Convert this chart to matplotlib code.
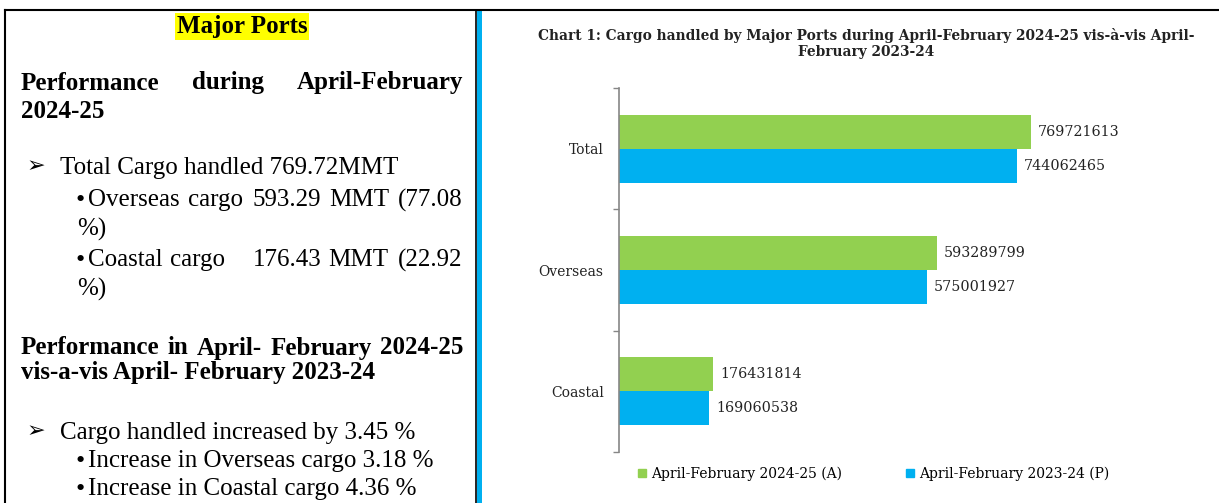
import matplotlib
matplotlib.use('Agg')
import matplotlib.pyplot as plt
from matplotlib.patches import Patch, Rectangle
from matplotlib.lines import Line2D

W, H = 1219, 503

categories = ['Coastal', 'Overseas', 'Total']
cargo_2024_25 = [176431814, 593289799, 769721613]
cargo_2023_24 = [169060538, 575001927, 744062465]
series_labels = ['April-February 2024-25 (A)', 'April-February 2023-24 (P)']
chart_title = ('Chart 1: Cargo handled by Major Ports during April-February 2024-25 vis-à-vis April-\n'
               'February 2023-24')

GREEN = '#92D050'
BLUE = '#00B0F0'
SERIF = ['Liberation Serif', 'DejaVu Sans']
CHART_FONT = 'DejaVu Serif'


def fx(x):
    return x / W


def fy(y):
    return 1 - y / H


fig = plt.figure(figsize=(W / 100, H / 100), dpi=100)
renderer = fig.canvas.get_renderer()

# table borders
fig.add_artist(Line2D([fx(5), fx(W)], [fy(9.5), fy(9.5)], color='black', lw=1.5))
fig.add_artist(Line2D([fx(5), fx(5)], [fy(9.5), fy(H)], color='black', lw=1.5))
fig.add_artist(Line2D([fx(476), fx(476)], [fy(9.5), fy(H)], color='black', lw=1.2))
fig.add_artist(Rectangle((fx(477), 0), fx(4.5), fy(10), color=BLUE, lw=0))


def put(x, y, s, bold=False, ha='left', size=18, **kw):
    return fig.text(fx(x), fy(y), s, ha=ha, va='center', fontsize=size, family=SERIF,
                    fontweight='bold' if bold else 'normal', **kw)


def justify(words, y, x0, x1, bold=False):
    # spread words over x0..x1 like justified text in the document
    arts = [put(0, y, w, bold=bold) for w in words]
    widths = [a.get_window_extent(renderer).width for a in arts]
    gap = (x1 - x0 - sum(widths)) / (len(words) - 1)
    x = x0
    for a, w in zip(arts, widths):
        a.set_x(fx(x))
        x += w + gap


def arrow(y):
    put(27, y, '➢', size=16)


def bullet(y):
    put(75.5, y + 1, '•', size=19)


# left panel
put(242, 26, 'Major Ports', bold=True, ha='center',
    bbox=dict(facecolor='#FFFF00', edgecolor='none', pad=1.5))
justify(['Performance', 'during', 'April-February'], 83, 21, 463, bold=True)
put(21, 112, '2024-25', bold=True)

arrow(168)
put(60, 168, 'Total Cargo handled 769.72MMT')
bullet(200)
justify(['Overseas', 'cargo', '593.29', 'MMT', '(77.08'], 200, 88, 463)
put(77, 229, '%)')
bullet(260)
for x, w in zip([88, 170, 253, 328, 398], ['Coastal', 'cargo', '176.43', 'MMT', '(22.92']):
    put(x, 260, w)
put(77, 289, '%)')

justify(['Performance', 'in', 'April-', 'February', '2024-25'], 348, 21, 463, bold=True)
put(21, 373, 'vis-a-vis April- February 2023-24', bold=True)

arrow(433)
put(60, 433, 'Cargo handled increased by 3.45 %')
bullet(461)
put(88, 461, 'Increase in Overseas cargo 3.18 %')
bullet(489)
put(88, 489, 'Increase in Coastal cargo 4.36 %')

# chart
x_max = 1e9
ax_w = (1031 - 619) / cargo_2024_25[2] * x_max
ax = fig.add_axes([fx(619), fy(452), fx(ax_w), (452 - 88) / H])

pos = list(range(len(categories)))
bh = 0.28
ax.barh([p + bh / 2 for p in pos], cargo_2024_25, height=bh, color=GREEN, label=series_labels[0])
ax.barh([p - bh / 2 for p in pos], cargo_2023_24, height=bh, color=BLUE, label=series_labels[1])

for p, v in zip(pos, cargo_2024_25):
    ax.annotate(str(v), (v, p + bh / 2), xytext=(5, 0), textcoords='offset points',
                va='center', fontsize=10.3, family=CHART_FONT, color='#222222')
for p, v in zip(pos, cargo_2023_24):
    ax.annotate(str(v), (v, p - bh / 2), xytext=(5, 0), textcoords='offset points',
                va='center', fontsize=10.3, family=CHART_FONT, color='#222222')

ax.set_xlim(0, x_max)
ax.set_ylim(-0.5, len(categories) - 0.5)
ax.set_yticks([p - 0.5 for p in range(len(categories) + 1)])
ax.set_yticklabels([])
ax.set_yticks(pos, minor=True)
ax.set_yticklabels(categories, minor=True, fontsize=10, family=CHART_FONT, color='#222222')
ax.tick_params(axis='y', which='major', length=4, color='#868686', width=1)
ax.tick_params(axis='y', which='minor', length=0, pad=11)
ax.set_xticks([])
for s in ['top', 'right', 'bottom']:
    ax.spines[s].set_visible(False)
ax.spines['left'].set_color('#868686')
ax.spines['left'].set_linewidth(1.2)

fig.text(fx(866), fy(43.5), chart_title, ha='center', va='center', fontsize=9.9,
         family=CHART_FONT, fontweight='bold', color='#222222', linespacing=1.15)

handles = [Patch(color=GREEN), Patch(color=BLUE)]
fig.legend(handles, series_labels, loc='center', bbox_to_anchor=(fx(874), fy(474)),
           ncol=2, frameon=False, handlelength=0.55, handleheight=0.55, handletextpad=0.4,
           columnspacing=4.6, prop=dict(family=CHART_FONT, size=10))

fig.savefig('out.png', dpi=100)
